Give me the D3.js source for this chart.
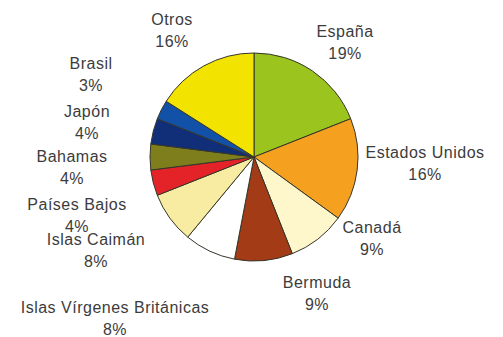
<!DOCTYPE html>
<html>
<head>
<meta charset="utf-8">
<script src="https://cdn.jsdelivr.net/npm/d3@7"></script>
<style>
  html, body { margin: 0; padding: 0; background: #fff; }
  svg { display: block; }
  text { font-family: "Liberation Sans", Arial, sans-serif; font-size: 16px; letter-spacing: 0.5px; fill: #3c3c3c; }
</style>
</head>
<body>
<svg id="chart" width="503" height="337"></svg>
<script>
// Country shares (%), clockwise from 12 o'clock
const countries = ["España", "Estados Unidos", "Canadá", "Bermuda", "Islas Vírgenes Británicas",
                   "Islas Caimán", "Países Bajos", "Bahamas", "Japón", "Brasil", "Otros"];
const shares = [19, 16, 9, 9, 8, 8, 4, 4, 4, 3, 16];
const sliceColors = ["#9bc41e", "#f5a11f", "#fff7cc", "#a23b16", "#ffffff",
                     "#f8eca2", "#e42329", "#7e7e1d", "#102f78", "#1151a8", "#f2e400"];

// Label anchor offsets from the pie centre (layout only)
const labelOffsets = [[91, -126], [171, -5], [118, 70], [63, 125], [-139, 150],
                      [-158, 82], [-177, 47], [-182, -1], [-167, -46], [-163, -94], [-82, -138]];

const cx = 254, cy = 157, radius = 104, lineGap = 22;

const svg = d3.select("#chart");
const g = svg.append("g").attr("transform", `translate(${cx},${cy})`);

const data = countries.map((c, i) => ({ name: c, value: shares[i], color: sliceColors[i], off: labelOffsets[i] }));

const pie = d3.pie().value(d => d.value).sort(null);
const arc = d3.arc().innerRadius(0).outerRadius(radius);

g.selectAll("path.slice")
  .data(pie(data))
  .join("path")
  .attr("class", "slice")
  .attr("d", arc)
  .attr("fill", d => d.data.color)
  .attr("stroke", "#35352a")
  .attr("stroke-width", 1)
  .attr("stroke-linejoin", "round");

const labels = g.selectAll("g.label")
  .data(pie(data))
  .join("g")
  .attr("class", "label")
  .attr("transform", d => `translate(${d.data.off[0]},${d.data.off[1]})`);

labels.append("text")
  .attr("text-anchor", "middle")
  .attr("dy", "0.35em")
  .text(d => d.data.name);

labels.append("text")
  .attr("text-anchor", "middle")
  .attr("y", lineGap)
  .attr("dy", "0.35em")
  .text(d => d.data.value + "%");
</script>
</body>
</html>
